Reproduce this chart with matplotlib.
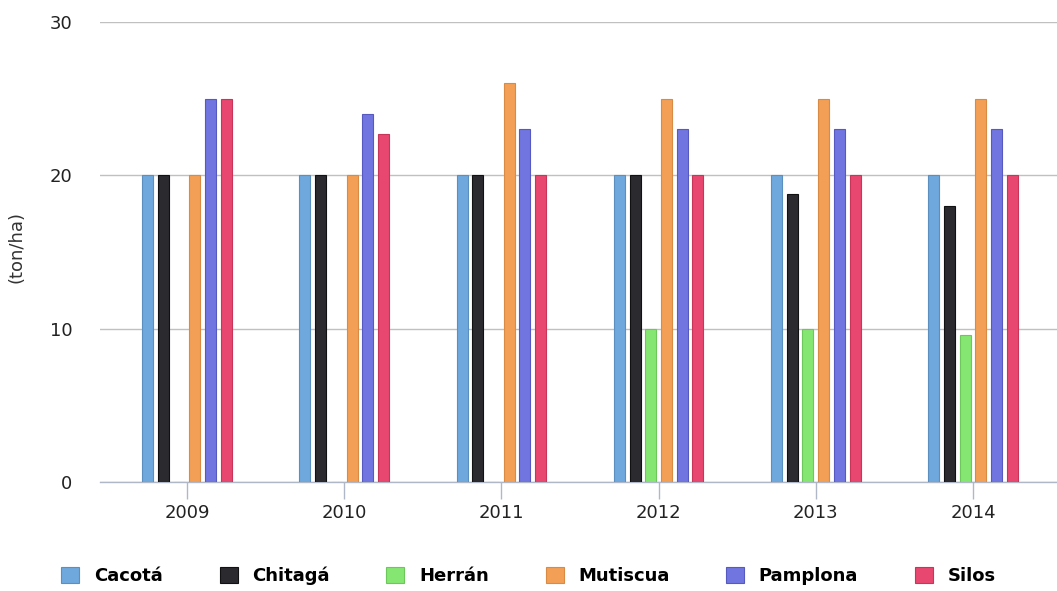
import numpy as np
import matplotlib
matplotlib.use('Agg')
import matplotlib.pyplot as plt
from matplotlib.patches import Patch

years = ['2009', '2010', '2011', '2012', '2013', '2014']
series = ['Cacotá', 'Chitagá', 'Herrán', 'Mutiscua', 'Pamplona', 'Silos']

cacota   = [20, 20, 20, 20, 20, 20]
chitaga  = [20, 20, 20, 20, 18.8, 18]
herran   = [0, 0, 0, 10, 10, 9.6]
mutiscua = [20, 20, 26, 25, 25, 25]
pamplona = [25, 24, 23, 23, 23, 23]
silos    = [25, 22.7, 20, 20, 20, 20]

values = [cacota, chitaga, herran, mutiscua, pamplona, silos]
colors = ['#6fa8dc', '#2b2b2f', '#86e672', '#f39f55', '#7075e0', '#e8476f']
edges = ['#5b8fc0', '#111114', '#6cc85a', '#d98a45', '#5559c0', '#c83558']

fig = plt.figure(figsize=(10.57, 5.91), dpi=100)
ax = fig.add_axes([100 / 1057, (591 - 482) / 591, 957 / 1057, 460 / 591])

x = np.arange(len(years))
width = 0.07
step = 0.1
for i, (name, vals) in enumerate(zip(series, values)):
    off = (i - 2.5) * step
    ax.bar(x + off, vals, width, color=colors[i], edgecolor=edges[i],
           linewidth=0.8, label=name, zorder=3)

ax.set_ylim(0, 30)
ax.set_yticks([0, 10, 20, 30])
ax.set_xlim(-0.553, 5.534)
ax.set_xticks(x)
ax.set_xticklabels(years)

ax.grid(axis='y', color='#c0c0c0', linewidth=1.0, zorder=0)
for s in ['top', 'right', 'left']:
    ax.spines[s].set_visible(False)
ax.spines['bottom'].set_color('#b0b8c8')
ax.spines['bottom'].set_linewidth(1.0)
ax.tick_params(axis='x', length=12, color='#b0b8c8', width=1.0,
               labelsize=13, labelcolor='#222222', pad=4)
ax.tick_params(axis='y', length=0, labelsize=13, labelcolor='#222222', pad=20)

ax.set_ylabel('(ton/ha)', fontsize=13, color='#333333')
ax.yaxis.set_label_coords(-0.078, 0.51)

handles = [Patch(facecolor=c, edgecolor=e, linewidth=0.8) for c, e in zip(colors, edges)]
fig.legend(handles, series, loc='center', ncol=6,
           bbox_to_anchor=(0.5, 1 - 576 / 591), frameon=False,
           prop={'weight': 'bold', 'size': 13}, handlelength=1.0,
           handleheight=1.0, handletextpad=0.8, columnspacing=3.15)

fig.savefig('out.png', dpi=100)
